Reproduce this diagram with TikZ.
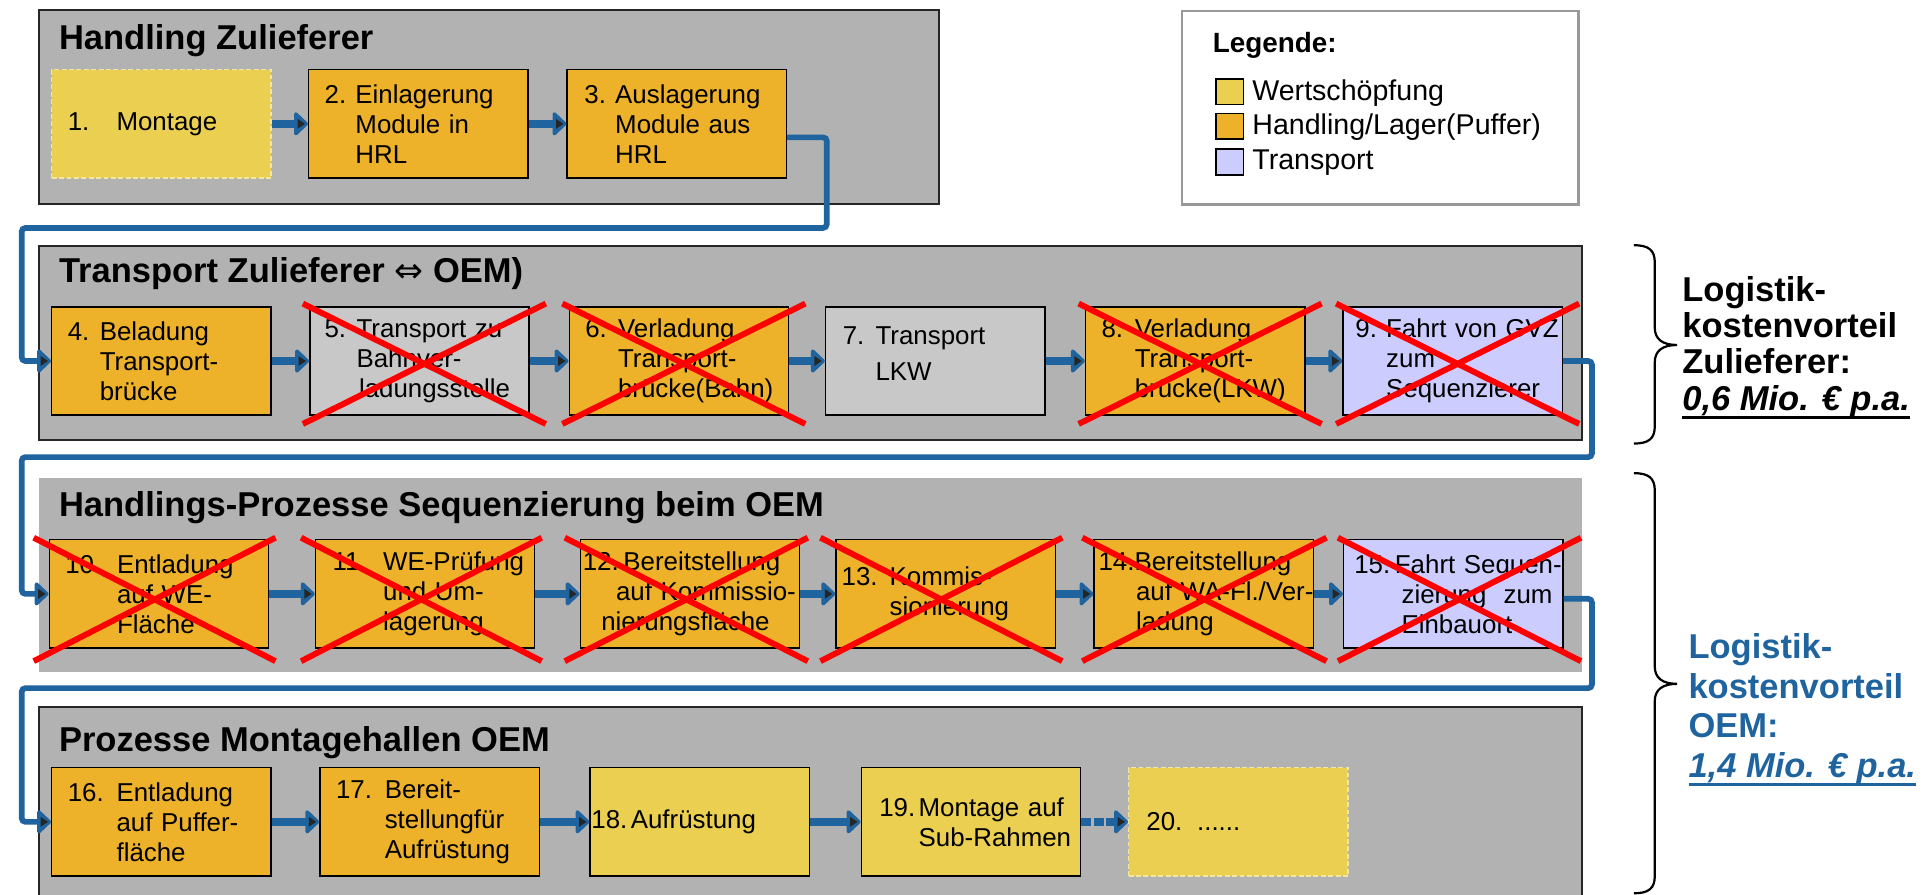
\documentclass[tikz,border=0pt]{standalone}
\usepackage{fontspec}
\setmainfont{Liberation Sans}
\newfontfamily\symfont{DejaVu Sans}
\usetikzlibrary{arrows.meta}
\definecolor{ylw}{RGB}{235,207,80}
\definecolor{org}{RGB}{237,178,42}
\definecolor{lav}{RGB}{204,204,255}
\definecolor{gbox}{RGB}{200,200,200}
\definecolor{panel}{RGB}{178,178,178}
\definecolor{cblue}{RGB}{31,100,158}
\definecolor{xred}{RGB}{255,0,0}
\newcommand\bxn[4]{\hspace*{#1pt}\makebox[#2pt][l]{#3}\mbox{#4}}
\newcommand\bxl[2]{\hspace*{#1pt}\mbox{#2}}
\newcommand\ulx[1]{\setbox0\hbox{#1}\rlap{\rule[-3.5pt]{\wd0}{1pt}}\box0}
\newcommand\xcross[5]{%
  \draw[xline] ([xshift=-#2pt,yshift=#3pt]#1.north west) -- ([xshift=#4pt,yshift=-#5pt]#1.south east);
  \draw[xline] ([xshift=#4pt,yshift=#3pt]#1.north east) -- ([xshift=-#2pt,yshift=-#5pt]#1.south west);}
\tikzset{
  pbox/.style={draw=black, line width=0.6pt, inner sep=0pt, text width=89pt, minimum height=44pt, align=left, font=\fontsize{10.5}{12.15}\selectfont},
  yb/.style={pbox, fill=ylw},
  ob/.style={pbox, fill=org},
  lb/.style={pbox, fill=lav},
  gb/.style={pbox, fill=gbox},
  db/.style={pbox, fill=ylw, draw=ylw!55!white, dash pattern=on 2pt off 1pt},
  arr/.style={draw=cblue, line width=3pt, -{Triangle[length=6pt,width=11pt,round]}},
  conn/.style={draw=cblue, line width=2.3pt, rounded corners=1.5pt, -{Triangle[length=6pt,width=11pt,round]}},
  xline/.style={draw=xred, line width=2.4pt},
  pnl/.style={fill=panel, draw=black!85, line width=0.8pt},
  ttl/.style={anchor=base west, inner sep=0pt, font=\bfseries\fontsize{14}{16}\selectfont},
  brc/.style={draw=black, line width=0.9pt},
  legsq/.style={draw=black, line width=0.6pt, minimum width=11pt, minimum height=10.5pt, inner sep=0pt},
  legtxt/.style={anchor=west, inner sep=0pt, font=\fontsize{11.6}{13}\selectfont},
  adv/.style={anchor=west, inner sep=0pt, align=left}
}
\begin{document}
\begin{tikzpicture}[x=0.5pt,y=-0.5pt]
\useasboundingbox (0,0) rectangle (1568,726);
% panels
\draw[pnl] (32,8) rectangle (762,165.6);
\draw[pnl] (32,199.6) rectangle (1284,357);
\fill[panel] (32,388) rectangle (1284,545);
\fill[panel] (32,574) rectangle (1284,730);
\draw[black!85, line width=0.8pt] (32,730) -- (32,574) -- (1284,574) -- (1284,730);
% titles
\node[ttl] (t1) at (47.5,40) {Handling Zulieferer};
\node[ttl] (t2) at (47.5,229) {Transport Zulieferer {\symfont\mdseries ⇔} OEM)};
\node[ttl] (t3) at (47.5,419) {Handlings-Prozesse Sequenzierung beim OEM};
\node[ttl] (t4) at (47.5,610) {Prozesse Montagehallen OEM};
% legend
\draw[draw=black!40, line width=0.9pt, fill=white] (959,8.7) rectangle (1281,166);
\node[anchor=west, inner sep=0pt, font=\bfseries\fontsize{11.3}{13}\selectfont] (legt) at (984,36.5) {Legende:};
\node[legsq, fill=ylw] (s1) at (998,74.5) {};
\node[legsq, fill=org] (s2) at (998,102.5) {};
\node[legsq, fill=lav] (s3) at (998,131.5) {};
\node[legtxt] (l1) at (1016,75.5) {Wertschöpfung};
\node[legtxt] (l2) at (1016,103.5) {Handling/Lager(Puffer)};
\node[legtxt] (l3) at (1016,132) {Transport};
% row 1
\node[db] (b1) at (131,100.5) {\bxn{6.5}{19.8}{1.}{Montage}};
\node[ob] (b2) at (339.5,100.5) {\bxn{6.5}{12.5}{2.}{Einlagerung}\\\bxl{19}{Module in}\\\bxl{19}{HRL}};
\node[ob] (b3) at (549.3,100.5) {\bxn{7}{12.5}{3.}{Auslagerung}\\\bxl{19.5}{Module aus}\\\bxl{19.5}{HRL}};
% row 2
\node[ob] (b4) at (131,293) {\bxn{6.5}{13}{4.}{Beladung}\\\bxl{19.5}{Transport-}\\\bxl{19.5}{brücke}};
\node[gb] (b5) at (340.4,293) {\bxn{6}{13}{5.}{Transport zu}\\\bxl{19}{Bahnver-}\\\bxl{20}{ladungsstelle}};
\node[ob] (b6) at (551,293) {\bxn{6.5}{13.3}{6.}{Verladung}\\\bxl{19.8}{Transport-}\\\bxl{19.8}{brücke(Bahn)}};
\node[gb] (b7) at (759,293) {\bxn{7}{13.3}{7.}{Transport}\\[2.5pt]\bxl{20.3}{LKW}\\[-6pt]\mbox{}};
\node[ob] (b8) at (970,293) {\bxn{6.5}{13.5}{8.}{Verladung}\\\bxl{20}{Transport-}\\\bxl{20}{brücke(LKW)}};
\node[lb] (b9) at (1179,293) {\bxn{5}{12.5}{9.}{Fahrt von GVZ}\\\bxl{17.5}{zum}\\\bxl{17.5}{Sequenzierer}};
% row 3
\node[ob] (b10) at (129,482) {\bxn{6.5}{21}{10.}{Entladung}\\\bxl{27.5}{auf WE-}\\\bxl{27.5}{Fläche}};
\node[ob] (b11) at (345,482) {\bxn{7}{20.5}{11.}{WE-Prüfung}\\\bxl{27.5}{und Um-}\\\bxl{27.5}{lagerung}};
\node[ob] (b12) at (560,482) {\bxn{1}{16.5}{12.}{Bereitstellung}\\\bxl{14.5}{auf Kommissio-}\\\bxl{8.5}{nierungsfläche}};
\node[ob] (b13) at (767.5,482) {\bxn{2.3}{19.5}{13.}{Kommis-}\\\bxl{21.8}{sionierung}};
\node[ob] (b14) at (977,482) {\bxn{1.8}{14.6}{14.}{Bereitstellung}\\\bxl{17}{auf WA-Fl./Ver-}\\\bxl{17}{ladung}};
\node[lb] (b15) at (1179.5,482) {\bxn{4.3}{16.5}{15.}{Fahrt Sequen-}\\\bxl{23.5}{zierung\ \ zum}\\\bxl{23.5}{Einbauort}};
% row 4
\node[ob] (b16) at (131,667) {\bxn{6.5}{19.8}{16.}{Entladung}\\\bxl{26.3}{auf Puffer-}\\\bxl{26.3}{fläche}};
\node[ob] (b17) at (348.7,667) {\bxn{6.5}{19.8}{17.}{Bereit-}\\\bxl{26.3}{stellungfür}\\\bxl{26.3}{Aufrüstung}};
\node[yb] (b18) at (568,667) {\bxn{0.5}{16}{18.}{Aufrüstung}};
\node[yb] (b19) at (788,667) {\bxn{7.3}{16}{19.}{Montage auf}\\\bxl{23.3}{Sub-Rahmen}};
\node[db] (b20) at (1005,667) {\bxn{7.2}{20.6}{20.}{......}};
% arrows in rows
\draw[arr] (b1.east) -- (b2.west);
\draw[arr] (b2.east) -- (b3.west);
\draw[arr] (b4.east) -- (b5.west);
\draw[arr] (b5.east) -- (b6.west);
\draw[arr] (b6.east) -- (b7.west);
\draw[arr] (b7.east) -- (b8.west);
\draw[arr] (b8.east) -- (b9.west);
\draw[arr] (b10.east) -- (b11.west);
\draw[arr] (b11.east) -- (b12.west);
\draw[arr] (b12.east) -- (b13.west);
\draw[arr] (b13.east) -- (b14.west);
\draw[arr] (b14.east) -- (b15.west);
\draw[arr] (b16.east) -- (b17.west);
\draw[arr] (b17.east) -- (b18.west);
\draw[arr] (b18.east) -- (b19.west);
\draw[arr, dash pattern=on 4pt off 1pt] (b19.east) -- (b20.west);
% connectors between rows
\coordinate (k1) at (671,185);
\coordinate (k2) at (17.6,185);
\coordinate (k3) at (1292,371);
\coordinate (k4) at (17.6,371);
\coordinate (k5) at (1292,558.5);
\coordinate (k6) at (17.6,558.5);
\draw[conn] ([yshift=-5.5pt]b3.east) -| (k1) -- (k2) |- (b4.west);
\draw[conn] (b9.east) -| (k3) -- (k4) |- (b10.west);
\draw[conn] ([yshift=-2pt]b15.east) -| (k5) -- (k6) |- (b16.west);
% inner dark arrow marks
\foreach \t in {b2,b3,b4,b5,b6,b7,b8,b9,b10,b11,b12,b13,b14,b15,b16,b17,b18,b19,b20}{
  \fill[black!85] ([xshift=-1.2pt]\t.west) -- ++(-3pt,2pt) -- ++(0pt,-4pt) -- cycle;}
% crosses
\xcross{b5}{2.5}{1}{6.5}{3.25}
\xcross{b6}{2.5}{1}{6.5}{3.25}
\xcross{b8}{2.5}{1}{6.5}{3.25}
\xcross{b9}{2.5}{1}{6.5}{3.25}
\xcross{b10}{6}{0.5}{2.5}{5}
\xcross{b11}{5.5}{0.5}{2.5}{5}
\xcross{b12}{6}{0.5}{3}{5}
\xcross{b13}{6}{0.5}{2.5}{5}
\xcross{b14}{4.5}{0.5}{5}{5}
\xcross{b15}{2}{0.5}{7}{5}
% braces
\draw[brc] (1326,199) .. controls (1338,199) and (1343,203) .. (1343,213) -- (1343,266) .. controls (1343,275) and (1349,280) .. (1361,280) .. controls (1349,280) and (1343,285) .. (1343,294) -- (1343,346) .. controls (1343,356) and (1338,360) .. (1326,360);
\draw[brc] (1326,384) .. controls (1338,384) and (1343,388) .. (1343,398) -- (1343,541) .. controls (1343,550) and (1349,555) .. (1361,555) .. controls (1349,555) and (1343,560) .. (1343,569) -- (1343,711) .. controls (1343,721) and (1338,725) .. (1326,725);
% advantage texts
\node[adv, font=\bfseries\fontsize{14}{14.75}\selectfont] (adv1) at (1365,282) {Logistik-\\kostenvorteil\\Zulieferer:\\\ulx{\itshape 0,6 Mio. € p.a.}};
\node[adv, text=cblue, font=\bfseries\fontsize{14}{16}\selectfont] (adv2) at (1370,576) {Logistik-\\kostenvorteil\\OEM:\\\ulx{\itshape 1,4 Mio. € p.a.}};
\end{tikzpicture}
\end{document}
